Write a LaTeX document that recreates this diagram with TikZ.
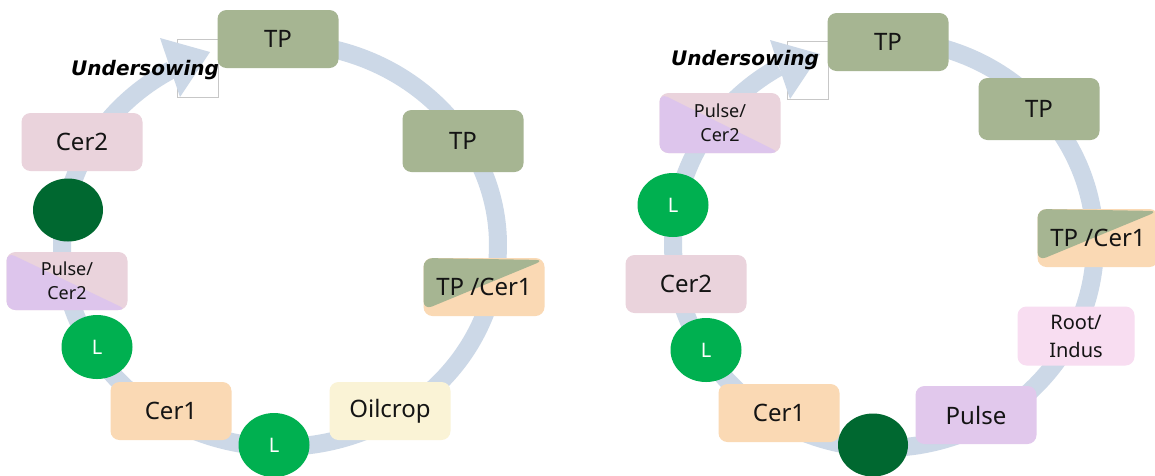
\documentclass[tikz,border=0pt]{standalone}
\usepackage{fontspec}
\setmainfont{Noto Sans}
\newfontfamily\underfont{DejaVu Sans}
\usetikzlibrary{shapes.geometric}
\definecolor{tpgreen}{RGB}{166,181,146}
\definecolor{certwo}{RGB}{234,211,220}
\definecolor{cerone}{RGB}{250,217,180}
\definecolor{oilc}{RGB}{250,243,214}
\definecolor{pulsec}{RGB}{225,200,236}
\definecolor{rootc}{RGB}{248,221,241}
\definecolor{pcpurple}{RGB}{221,197,236}
\definecolor{lgreen}{RGB}{0,176,80}
\definecolor{dgreen}{RGB}{0,104,48}
\definecolor{bandc}{RGB}{204,216,231}
\definecolor{ink}{RGB}{20,20,20}
\tikzset{
  band/.style={draw=bandc, line width=18pt},
  cropbox/.style={rounded corners=9pt, inner sep=0pt, align=center, text=ink,
    minimum width=121pt, minimum height=58pt, font=\fontsize{24}{28}\selectfont},
  twoline/.style={cropbox, font=\fontsize{18}{24}\selectfont},
  rootbox/.style={cropbox, font=\fontsize{20}{28}\selectfont},
  legume/.style={ellipse, inner sep=0pt, minimum width=71pt, minimum height=64pt,
    fill=lgreen, text=white, font=\fontsize{20}{24}\selectfont},
  fallow/.style={ellipse, inner sep=0pt, minimum width=70pt, minimum height=63pt, fill=dgreen},
  tpcer/.style={cropbox, fill=cerone, path picture={\fill[tpgreen]
    ([yshift=6pt]path picture bounding box.south west) --
    (path picture bounding box.north west) --
    ([yshift=-2pt]path picture bounding box.north east) -- cycle;}},
  pulsecer/.style={twoline, fill=certwo, path picture={\fill[pcpurple]
    (path picture bounding box.north west) --
    (path picture bounding box.south west) --
    (path picture bounding box.south east) -- cycle;}},
  ghost/.style={draw=black!22, line width=0.6pt},
  under/.style={anchor=base west, inner sep=0pt, text=black,
    font=\underfont\fontsize{20}{24}\selectfont\bfseries\itshape}
}
\begin{document}
\begin{tikzpicture}[x=1pt,y=-1pt]
\useasboundingbox (0,0) rectangle (1155,475);
\clip (0,0) rectangle (1155,475);
\fill[white] (0,0) rectangle (1155,475);
% ---------- left cycle ----------
\draw[ghost] (177,39) rectangle (218,97);
\draw[band] plot[domain=-240:80, samples=220, variable=\t] ({280+218*cos(\t)},{245-202*sin(\t)});
\fill[bandc] (160,38) -- (210,52) -- (180,97) -- cycle;
\node[under] (usL) at (71,75) {Undersowing};
\node[cropbox, fill=tpgreen] (tpA) at (278,39) {TP};
\node[cropbox, fill=tpgreen, minimum height=62pt] (tpB) at (463,141) {TP};
\node[tpcer] (tcA) at (484,287) {TP /Cer1};
\node[cropbox, fill=oilc] (oilA) at (390,411) {Oilcrop};
\node[legume] (lA1) at (274,445) {L};
\node[cropbox, fill=cerone] (c1A) at (171,411) {Cer1};
\node[legume] (lA2) at (97,347) {L};
\node[pulsecer] (pcA) at (67,281) {Pulse/\\Cer2};
\node[fallow] (fA) at (68,210) {};
\node[cropbox, fill=certwo] (c2A) at (82,142) {Cer2};
% ---------- right cycle ----------
\draw[ghost] (787,41) rectangle (828,99);
\draw[band] plot[domain=-240:80, samples=220, variable=\t] ({884+211*cos(\t)},{244-204*sin(\t)});
\fill[bandc] (770,40) -- (820,54) -- (790,99) -- cycle;
\node[under] (usR) at (671,65) {Undersowing};
\node[cropbox, fill=tpgreen] (tpC) at (888,42) {TP};
\node[cropbox, fill=tpgreen, minimum height=62pt] (tpD) at (1039,109) {TP};
\node[tpcer] (tcB) at (1098,238) {TP /Cer1};
\node[rootbox, fill=rootc, minimum width=117pt, minimum height=59pt] (rtB) at (1076,336) {Root/\\Indus};
\node[cropbox, fill=pulsec] (puB) at (976,415) {Pulse};
\node[fallow] (fB) at (873,445) {};
\node[cropbox, fill=cerone] (c1B) at (779,413) {Cer1};
\node[legume] (lB2) at (706,350) {L};
\node[cropbox, fill=certwo] (c2B) at (686,284) {Cer2};
\node[legume] (lB1) at (673,205) {L};
\node[pulsecer, minimum height=60pt] (pcB) at (720,123) {Pulse/\\Cer2};
\end{tikzpicture}
\end{document}
